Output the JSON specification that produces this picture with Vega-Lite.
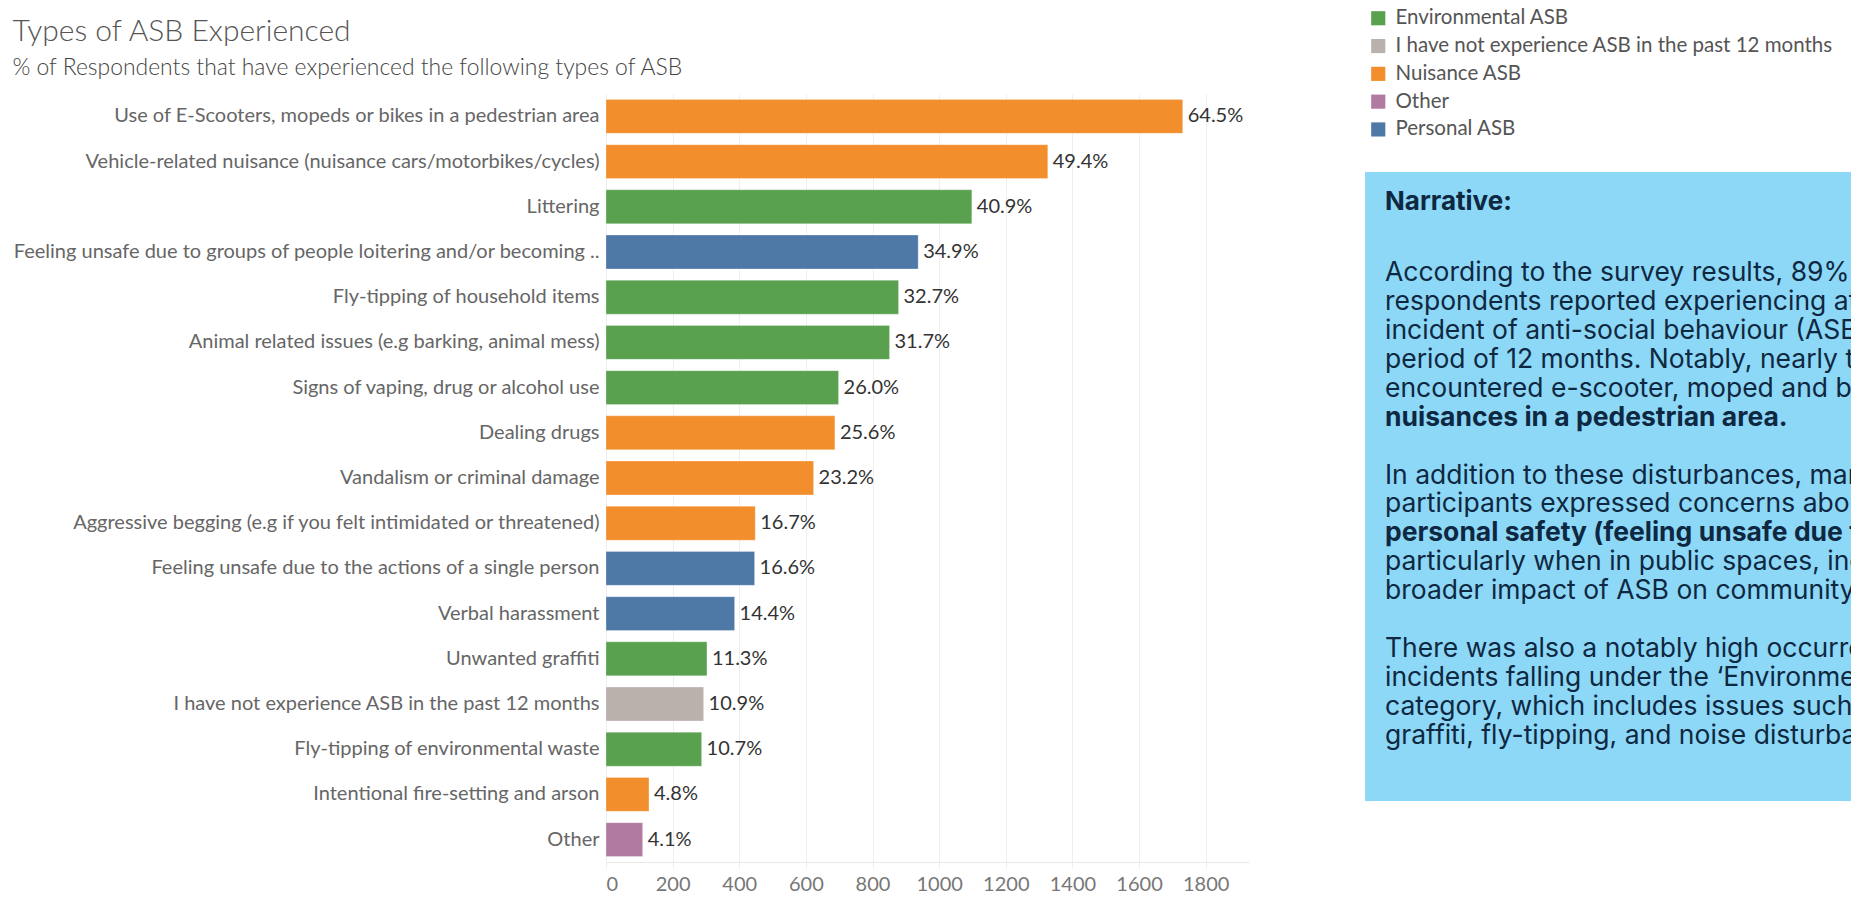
{
  "$schema": "https://vega.github.io/schema/vega-lite/v6.json",
  "padding": {"left": 12, "top": 8, "right": 0, "bottom": 0},
  "background": "#ffffff",
  "config": {
    "view": {"stroke": null},
    "font": "Lato"
  },
  "hconcat": [
    {
      "width": 643,
      "height": 768,
      "title": {
        "text": "Types of ASB Experienced",
        "subtitle": "% of Respondents that have experienced the following types of ASB",
        "anchor": "start",
        "font": "Lato",
        "fontSize": 30,
        "fontWeight": 300,
        "color": "#555555",
        "subtitleFont": "Lato",
        "subtitleFontSize": 22.9,
        "subtitleFontWeight": 300,
        "subtitleColor": "#444444",
        "subtitlePadding": 10,
        "offset": 14
      },
      "data": {
        "values": [
          {"type": "Use of E-Scooters, mopeds or bikes in a pedestrian area", "category": "Nuisance ASB", "respondents": 1731, "pct": 0.645},
          {"type": "Vehicle-related nuisance (nuisance cars/motorbikes/cycles)", "category": "Nuisance ASB", "respondents": 1326, "pct": 0.494},
          {"type": "Littering", "category": "Environmental ASB", "respondents": 1098, "pct": 0.409},
          {"type": "Feeling unsafe due to groups of people loitering and/or becoming ..", "category": "Personal ASB", "respondents": 937, "pct": 0.349},
          {"type": "Fly-tipping of household items", "category": "Environmental ASB", "respondents": 878, "pct": 0.327},
          {"type": "Animal related issues (e.g barking, animal mess)", "category": "Environmental ASB", "respondents": 851, "pct": 0.317},
          {"type": "Signs of vaping, drug or alcohol use", "category": "Environmental ASB", "respondents": 698, "pct": 0.26},
          {"type": "Dealing drugs", "category": "Nuisance ASB", "respondents": 687, "pct": 0.256},
          {"type": "Vandalism or criminal damage", "category": "Nuisance ASB", "respondents": 623, "pct": 0.232},
          {"type": "Aggressive begging (e.g if you felt intimidated or threatened)", "category": "Nuisance ASB", "respondents": 448, "pct": 0.167},
          {"type": "Feeling unsafe due to the actions of a single person", "category": "Personal ASB", "respondents": 446, "pct": 0.166},
          {"type": "Verbal harassment", "category": "Personal ASB", "respondents": 386, "pct": 0.144},
          {"type": "Unwanted graffiti", "category": "Environmental ASB", "respondents": 303, "pct": 0.113},
          {"type": "I have not experience ASB in the past 12 months", "category": "I have not experience ASB in the past 12 months", "respondents": 293, "pct": 0.109},
          {"type": "Fly-tipping of environmental waste", "category": "Environmental ASB", "respondents": 287, "pct": 0.107},
          {"type": "Intentional fire-setting and arson", "category": "Nuisance ASB", "respondents": 129, "pct": 0.048},
          {"type": "Other", "category": "Other", "respondents": 110, "pct": 0.041}
        ]
      },
      "encoding": {
        "y": {
          "field": "type",
          "type": "nominal",
          "sort": null,
          "scale": {"paddingInner": 0.25, "paddingOuter": 0.12},
          "axis": {
            "title": null,
            "ticks": false,
            "domain": false,
            "grid": false,
            "labelFont": "Lato",
            "labelFontSize": 20,
            "labelColor": "#666666",
            "labelPadding": 7,
            "labelLimit": 800
          }
        },
        "x": {
          "field": "respondents",
          "type": "quantitative",
          "scale": {"domain": [0, 1930], "nice": false},
          "axis": {
            "title": null,
            "values": [0, 200, 400, 600, 800, 1000, 1200, 1400, 1600, 1800],
            "format": "d",
            "grid": true,
            "gridColor": "#eeeeee",
            "tickColor": "#eeeeee",
            "tickSize": 6,
            "domainColor": "#e8e8e8",
            "labelFont": "Lato",
            "labelFontSize": 20,
            "labelColor": "#777777",
            "labelPadding": 6
          }
        }
      },
      "layer": [
        {
          "mark": {"type": "bar", "stroke": "#ffffff", "strokeWidth": 0.8, "strokeOpacity": 0.35},
          "encoding": {
            "color": {
              "field": "category",
              "type": "nominal",
              "scale": {
                "domain": ["Environmental ASB", "I have not experience ASB in the past 12 months", "Nuisance ASB", "Other", "Personal ASB"],
                "range": ["#59A14F", "#BAB0AC", "#F28E2B", "#B07AA1", "#4E79A7"]
              },
              "legend": {
                "orient": "none",
                "legendX": 762,
                "legendY": -86,
                "title": null,
                "padding": 0,
                "offset": 0,
                "symbolType": "square",
                "symbolSize": 200,
                "symbolStrokeWidth": 0,
                "symbolOpacity": 1,
                "labelFont": "Lato",
                "labelFontSize": 20.5,
                "labelColor": "#555555",
                "labelOffset": 7,
                "labelLimit": 600,
                "rowPadding": 6.8
              }
            }
          }
        },
        {
          "mark": {"type": "text", "align": "left", "baseline": "middle", "dx": 5, "font": "Lato", "fontSize": 20, "color": "#333333"},
          "encoding": {
            "text": {"field": "pct", "type": "quantitative", "format": ".1%"}
          }
        }
      ]
    },
    {
      "spacing": 20,
      "vconcat": [
        {
          "width": 10,
          "height": 58,
          "data": {"values": []},
          "mark": "point",
          "encoding": {}
        },
        {
          "width": 486,
          "height": 629,
          "view": {"fill": "#8DD7F7", "stroke": null},
          "data": {
            "values": [
              {"line": 0, "emphasis": "heading", "text": "Narrative:"},
              {"line": 2, "emphasis": "plain", "text": "According to the survey results, 89% of"},
              {"line": 3, "emphasis": "plain", "text": "respondents reported experiencing at least one"},
              {"line": 4, "emphasis": "plain", "text": "incident of anti-social behaviour (ASB) within a"},
              {"line": 5, "emphasis": "plain", "text": "period of 12 months. Notably, nearly two-thirds"},
              {"line": 6, "emphasis": "plain", "text": "encountered e-scooter, moped and bike"},
              {"line": 7, "emphasis": "strong", "text": "nuisances in a pedestrian area."},
              {"line": 9, "emphasis": "plain", "text": "In addition to these disturbances, many"},
              {"line": 10, "emphasis": "plain", "text": "participants expressed concerns about their"},
              {"line": 11, "emphasis": "strong", "text": "personal safety (feeling unsafe due to groups),"},
              {"line": 12, "emphasis": "plain", "text": "particularly when in public spaces, indicating the"},
              {"line": 13, "emphasis": "plain", "text": "broader impact of ASB on community wellbeing."},
              {"line": 15, "emphasis": "plain", "text": "There was also a notably high occurrence of"},
              {"line": 16, "emphasis": "plain", "text": "incidents falling under the ‘Environmental ASB’"},
              {"line": 17, "emphasis": "plain", "text": "category, which includes issues such as littering,"},
              {"line": 18, "emphasis": "plain", "text": "graffiti, fly-tipping, and noise disturbances."}
            ]
          },
          "encoding": {
            "y": {"field": "line", "type": "quantitative", "scale": {"domain": [-1.5, 20.26], "reverse": true}, "axis": null},
            "x": {"datum": 0, "type": "quantitative", "scale": {"domain": [0, 1]}, "axis": null},
            "text": {"field": "text", "type": "nominal"}
          },
          "layer": [
            {
              "transform": [{"filter": "datum.emphasis === 'heading'"}],
              "mark": {"type": "text", "align": "left", "baseline": "middle", "dx": 20, "dy": -13, "clip": true, "font": "Inter", "fontSize": 26, "fontWeight": "bold", "color": "#0E2841"}
            },
            {
              "transform": [{"filter": "datum.emphasis === 'strong'"}],
              "mark": {"type": "text", "align": "left", "baseline": "middle", "dx": 20, "clip": true, "font": "Inter", "fontSize": 26.5, "fontWeight": "bold", "color": "#0E2841"}
            },
            {
              "transform": [{"filter": "datum.emphasis === 'plain'"}],
              "mark": {"type": "text", "align": "left", "baseline": "middle", "dx": 20, "clip": true, "font": "Inter", "fontSize": 26.5, "color": "#0E2841"}
            }
          ]
        }
      ]
    }
  ],
  "spacing": 116
}
